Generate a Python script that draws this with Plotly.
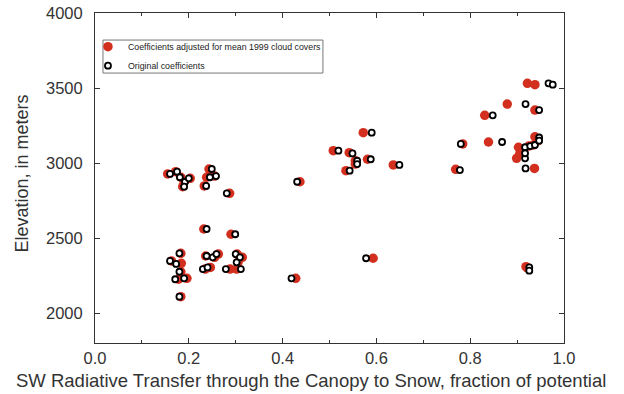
import plotly.graph_objects as go

# Paired points: adjusted (red) x, original (black) x, elevation
adj_x = [0.155, 0.172, 0.183, 0.190, 0.203, 0.187, 0.243, 0.255, 0.238, 0.233, 0.287, 0.437,
         0.183, 0.163, 0.184, 0.183, 0.178, 0.196, 0.183, 0.236, 0.255, 0.263, 0.235, 0.246,
         0.288, 0.303, 0.314, 0.305, 0.302, 0.232, 0.290, 0.428,
         0.572, 0.508, 0.542, 0.555, 0.555, 0.535, 0.581, 0.636, 0.593,
         0.769, 0.784, 0.839, 0.831, 0.879, 0.938, 0.922, 0.938, 0.937, 0.903, 0.899, 0.906,
         0.938, 0.925, 0.935, 0.919, 0.922, 0.945]
adj_y = [2927, 2942, 2905, 2875, 2898, 2842, 2960, 2913, 2905, 2847, 2798, 2875,
         2398, 2347, 2331, 2275, 2225, 2231, 2109, 2380, 2371, 2393, 2293, 2304,
         2293, 2393, 2371, 2338, 2293, 2560, 2525, 2231,
         3202, 3082, 3069, 3015, 2993, 2949, 3025, 2987, 2365,
         2958, 3127, 3140, 3318, 3393, 3353, 3531, 3522, 2964, 3105, 3031, 3065,
         3175, 3113, 3120, 2309, 2300, 3149]
orig_x = [0.160, 0.175, 0.181, 0.192, 0.200, 0.190, 0.249, 0.258, 0.245, 0.237, 0.281, 0.431,
          0.180, 0.160, 0.173, 0.180, 0.171, 0.190, 0.180, 0.238, 0.251, 0.259, 0.230, 0.240,
          0.279, 0.300, 0.309, 0.302, 0.311, 0.238, 0.299, 0.419,
          0.590, 0.519, 0.549, 0.559, 0.559, 0.543, 0.588, 0.649, 0.578,
          0.778, 0.780, 0.868, 0.848, 0.918, 0.947, 0.967, 0.976, 0.918, 0.917, 0.917, 0.917,
          0.947, 0.928, 0.938, 0.926, 0.926, 0.947]
orig_y = [2927, 2942, 2905, 2875, 2898, 2842, 2960, 2913, 2905, 2847, 2798, 2875,
          2398, 2347, 2327, 2275, 2225, 2231, 2109, 2380, 2371, 2393, 2293, 2304,
          2293, 2393, 2371, 2338, 2293, 2560, 2525, 2231,
          3202, 3082, 3064, 3015, 2993, 2949, 3025, 2987, 2365,
          2953, 3127, 3140, 3318, 3393, 3353, 3531, 3522, 2964, 3105, 3031, 3065,
          3170, 3113, 3120, 2304, 2282, 3149]

x_ticks = [0.0, 0.2, 0.4, 0.6, 0.8, 1.0]
x_ticklabels = ["0.0", "0.2", "0.4", "0.6", "0.8", "1.0"]
y_ticks = [2000, 2500, 3000, 3500, 4000]
x_title = "SW Radiative Transfer through the Canopy to Snow, fraction of potential"
y_title = "Elevation, in meters"

font = "Liberation Sans, Arial, Helvetica, sans-serif"
red = "#d32f1e"
ink = "#333"

fig = go.Figure()
fig.add_trace(go.Scatter(
    x=adj_x, y=adj_y, mode="markers",
    name="Coefficients adjusted for mean 1999 cloud covers",
    marker=dict(size=9.5, color=red, line=dict(width=0)),
))
fig.add_trace(go.Scatter(
    x=orig_x, y=orig_y, mode="markers",
    name="Original coefficients",
    marker=dict(size=6, color="white", line=dict(width=1.8, color="black")),
))

axis_common = dict(
    showline=True, linecolor=ink, linewidth=1, mirror="ticks",
    ticks="inside", ticklen=5, tickcolor=ink, showgrid=False, zeroline=False,
    tickfont=dict(family=font, size=16.5, color=ink), automargin=False,
)
fig.update_xaxes(
    range=[0, 1], tickvals=x_ticks, ticktext=x_ticklabels,
    minor=dict(ticks="inside", ticklen=3, dtick=0.1, tickcolor=ink, showgrid=False),
    ticklabelstandoff=0,
    **axis_common,
)
fig.update_yaxes(
    range=[1800, 4000], tickvals=y_ticks,
    ticklabelstandoff=8,
    **axis_common,
)

# axis titles as annotations (positioned like the reference)
fig.add_annotation(text=x_title, xref="paper", yref="paper", x=0.4616, y=-0.115,
                   xanchor="center", yanchor="middle", showarrow=False,
                   font=dict(family=font, size=18.5, color=ink))
fig.add_annotation(text=y_title, xref="paper", yref="paper", x=-0.1557, y=0.5136,
                   xanchor="center", yanchor="middle", showarrow=False, textangle=-90,
                   font=dict(family=font, size=18, color=ink))

# legend frame
fig.add_shape(type="rect", xref="paper", yref="paper",
              x0=0.017, x1=0.486, y0=0.818, y1=0.918,
              line=dict(color="#777", width=1), fillcolor="white", layer="below")

fig.update_layout(
    width=624, height=394,
    margin=dict(l=95, r=60, t=13, b=51),
    paper_bgcolor="white", plot_bgcolor="white",
    showlegend=True,
    legend=dict(x=-0.015, y=0.942, xanchor="left", yanchor="top",
                bgcolor="rgba(0,0,0,0)", borderwidth=0,
                font=dict(family=font, size=8.8, color="#222"),
                itemsizing="trace", tracegroupgap=0, itemwidth=30),
)

fig.write_html("out.html", post_script="document.body.style.margin='0';",
               config={"displayModeBar": False})
